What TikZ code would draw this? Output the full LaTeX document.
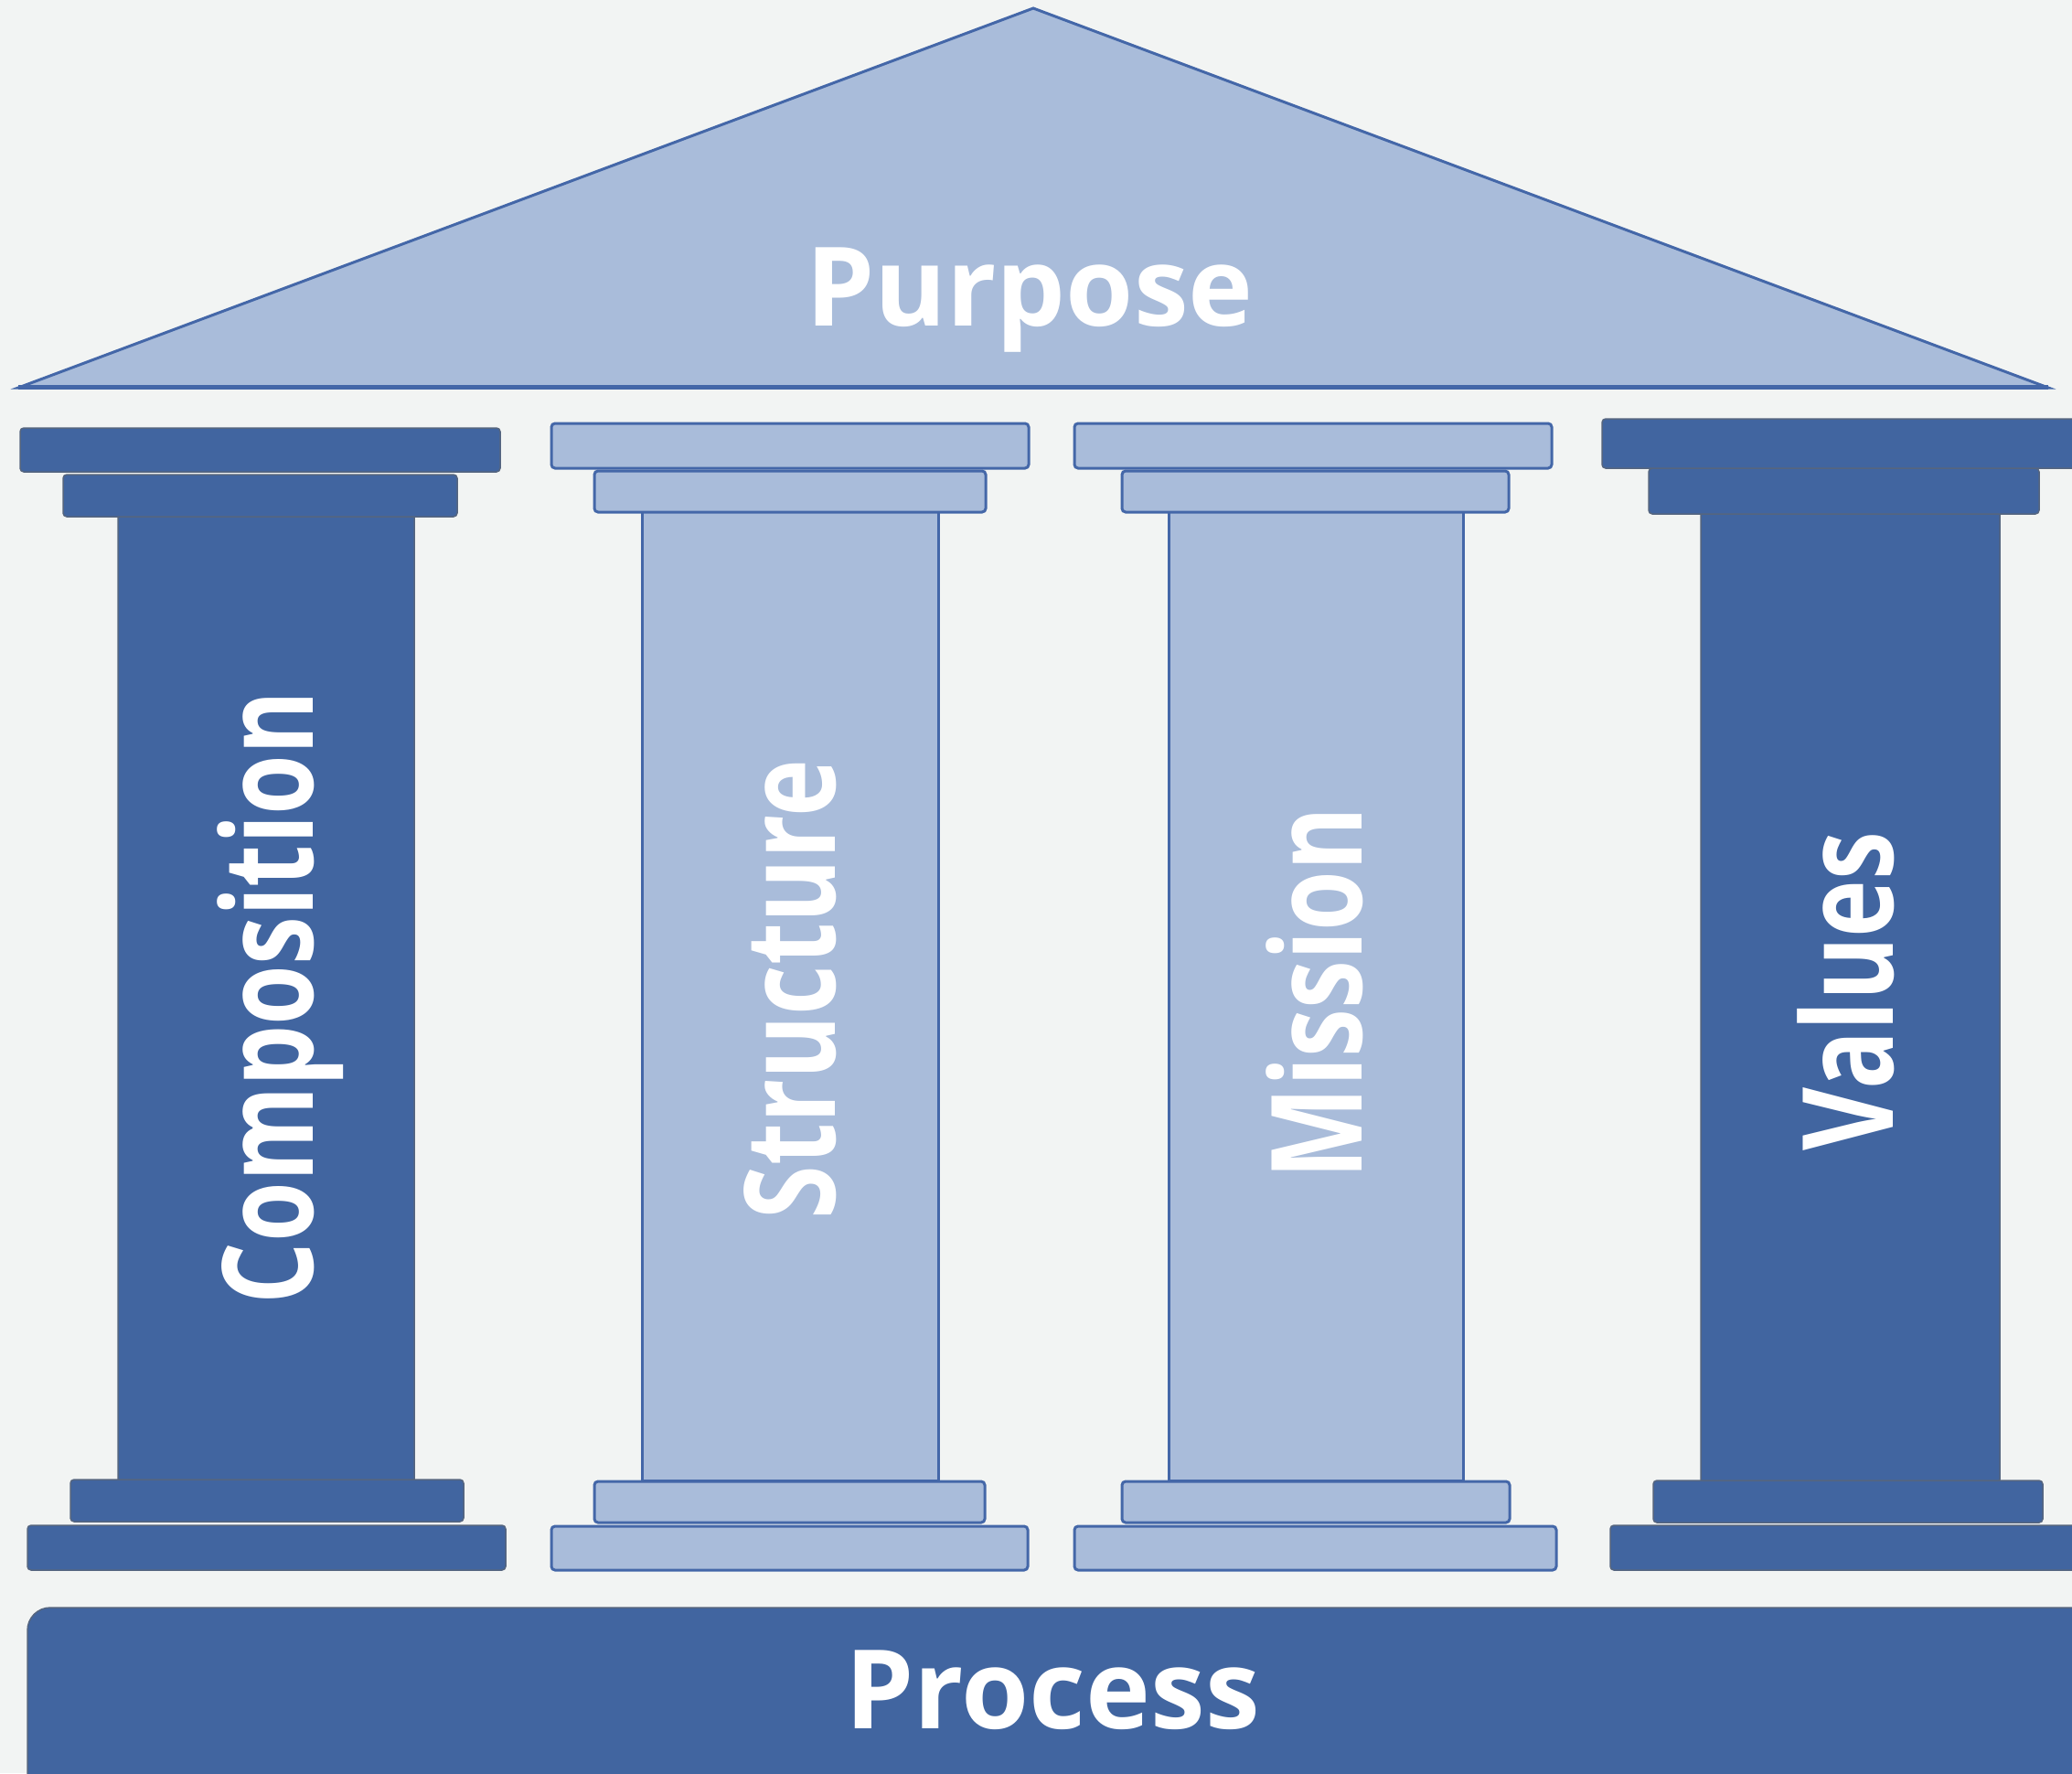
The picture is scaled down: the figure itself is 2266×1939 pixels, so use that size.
\documentclass[tikz,border=0pt]{standalone}
\usepackage{fontspec}
\setmainfont{Open Sans}
\definecolor{bg}{HTML}{F2F4F3}
\definecolor{dk}{HTML}{4165A0}
\definecolor{lt}{HTML}{A9BCDA}
\definecolor{ln}{HTML}{4467A8}
\definecolor{dkln}{HTML}{55657F}
\begin{document}
\begin{tikzpicture}[x=1pt,y=-1pt,
  darkpart/.style={fill=dk, draw=dkln, line width=1.5pt, rounded corners=4pt},
  lightpart/.style={fill=lt, draw=ln, line width=3pt, rounded corners=4pt},
  lbl/.style={text=white, inner sep=0pt, anchor=base, font=\bfseries\fontsize{120}{130}\selectfont},
  vlbl/.style={text=white, inner sep=0pt, rotate=90, anchor=base, font=\bfseries\fontsize{138}{150}\selectfont}]
\useasboundingbox (0,0) rectangle (2266,1939);
\clip (0,0) rectangle (2266,1939);
\fill[bg] (0,0) rectangle (2266,1939);
% roof
\draw[fill=lt, draw=ln, line width=3pt, line join=miter] (1130,9) -- (2240,424) -- (20,424) -- cycle;
\draw[ln, line width=5pt] (20,423) -- (2240,423);
% pillar 1 (dark)
\draw[darkpart] (129,560) rectangle (453,1622);
\draw[darkpart] (69,519) rectangle (500,565);
\draw[darkpart] (22,468) rectangle (547,516);
\draw[darkpart] (77,1618) rectangle (507,1664);
\draw[darkpart] (30,1668) rectangle (553,1717);
% pillar 2 (light)
\draw[lightpart, rounded corners=0pt] (702,558) rectangle (1026,1619);
\draw[lightpart] (650,515) rectangle (1078,560);
\draw[lightpart] (603,463) rectangle (1125,512);
\draw[lightpart] (650,1620) rectangle (1077,1665);
\draw[lightpart] (603,1669) rectangle (1124,1717);
% pillar 3 (light)
\draw[lightpart, rounded corners=0pt] (1278,558) rectangle (1600,1619);
\draw[lightpart] (1227,515) rectangle (1650,560);
\draw[lightpart] (1175,463) rectangle (1697,512);
\draw[lightpart] (1227,1620) rectangle (1651,1665);
\draw[lightpart] (1175,1669) rectangle (1702,1717);
% pillar 4 (dark)
\draw[darkpart] (1860,558) rectangle (2187,1622);
\draw[darkpart] (1803,512) rectangle (2230,562);
\draw[darkpart] (1752,458) rectangle (2300,512);
\draw[darkpart] (1808,1619) rectangle (2234,1665);
\draw[darkpart] (1761,1668) rectangle (2300,1717);
% base
\draw[fill=dk, draw=dkln, line width=1.5pt, rounded corners=25pt] (30,1758) rectangle (2320,2000);
% labels
\node[lbl] (purpose) at (1126,356) {Purpose};
\node[lbl] (process) at (1151,1890) {Process};
\node[vlbl] (composition) at (342,1091) {\scalebox{0.77}[1]{Composition}};
\node[vlbl] (structure) at (913,1082) {\scalebox{0.77}[1]{Structure}};
\node[vlbl] (mission) at (1489,1086) {\scalebox{0.77}[1]{Mission}};
\node[vlbl] (values) at (2070,1084) {\scalebox{0.77}[1]{Values}};
\end{tikzpicture}
\end{document}
